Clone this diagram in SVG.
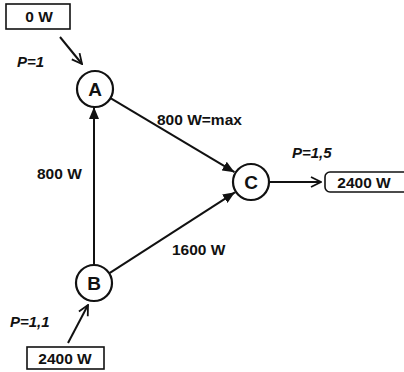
<svg xmlns="http://www.w3.org/2000/svg" width="404" height="372" viewBox="0 0 404 372">
<defs>
<style>
text{font-family:"Liberation Sans",Arial,sans-serif;fill:#111;}
.lbl{font-size:15.5px;font-weight:bold;}
.p{font-size:15px;font-weight:bold;font-style:italic;}
.node circle{fill:#fff;stroke:#111;stroke-width:2.2;}
.node text{font-size:19px;text-anchor:middle;font-weight:bold;}
.box rect{fill:#fff;stroke:#111;stroke-width:1.6;}
.box text{font-size:15.5px;text-anchor:middle;font-weight:bold;}
.edge{stroke:#111;stroke-width:2;fill:none;}
</style>
<marker id="tri" viewBox="0 0 12 10" refX="12" refY="5" markerWidth="12" markerHeight="10" markerUnits="userSpaceOnUse" orient="auto">
<path d="M0,0 L12,5 L0,10 Z" fill="#111"/>
</marker>
<marker id="chev" viewBox="0 0 12 12" refX="11" refY="6" markerWidth="12" markerHeight="12" markerUnits="userSpaceOnUse" orient="auto">
<path d="M1,1 L11,6 L1,11" fill="none" stroke="#111" stroke-width="1.8"/>
</marker>
</defs>
<g id="connectors">
<line class="edge" x1="110.5" y1="98.2" x2="234.5" y2="172.2" marker-end="url(#tri)"/>
<line class="edge" x1="109.1" y1="273.3" x2="234.9" y2="192.3" marker-end="url(#tri)"/>
<line class="edge" x1="94" y1="265" x2="94" y2="107" marker-end="url(#tri)"/>
<line class="edge" x1="269" y1="182" x2="321" y2="182" marker-end="url(#chev)"/>
<line class="edge" x1="60" y1="37" x2="82" y2="64" marker-end="url(#chev)" stroke-width="1.8"/>
<line class="edge" x1="68" y1="343" x2="88" y2="305" marker-end="url(#chev)" stroke-width="1.8"/>
<text class="lbl" x="157" y="125">800 W=max</text>
<text class="lbl" x="37" y="179">800 W</text>
<text class="lbl" x="172" y="255">1600 W</text>
</g>
<g id="A" class="node"><circle cx="95" cy="89" r="18"/><text x="95" y="96">A</text></g>
<g id="B" class="node"><circle cx="94" cy="283" r="18"/><text x="94" y="290">B</text></g>
<g id="C" class="node"><circle cx="251" cy="182" r="18"/><text x="251" y="189">C</text></g>
<g id="in0" class="box"><rect x="6" y="4" width="64" height="25"/><text x="39" y="22">0 W</text></g>
<g id="in2400" class="box"><rect x="27" y="347" width="77" height="22"/><text x="65" y="364">2400 W</text></g>
<g id="out2400" class="box"><rect x="325" y="172" width="90" height="20" rx="5"/><text x="364" y="188">2400 W</text></g>
<text class="p" x="17" y="67">P=1</text>
<text class="p" x="10" y="327">P=1,1</text>
<text class="p" x="292" y="158">P=1,5</text>
</svg>
